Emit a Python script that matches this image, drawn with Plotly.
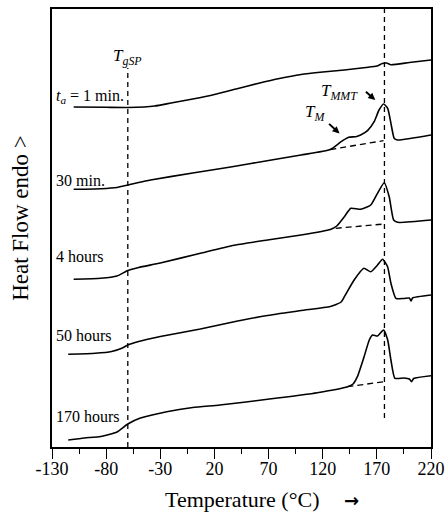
import plotly.graph_objects as go

# ---- data (heat flow in arbitrary units) ----
T1 = [-110, -80, -60, -45, -35, -20, 0, 20, 40, 60, 80, 100, 120, 140, 160, 170, 175, 179, 183, 200, 220]
HF1 = [340, 339.7, 339.5, 340, 341, 344, 348, 352.5, 358, 363.5, 368.5, 372.5, 375, 377, 379.5, 381, 383.5, 384, 382.3, 384.5, 387]

T2 = [-110, -85, -70, -60, -50, -39, 0, 35, 70, 100, 127, 137, 144, 150.5, 155, 161.4, 167.5, 172, 176.2, 180, 183, 186, 189, 220]
HF2 = [257.7, 258.3, 259.5, 262, 264.5, 267, 274, 280, 286.5, 292, 297.5, 305.3, 309.7, 310.3, 312, 316.3, 325.3, 337, 343, 338.7, 323.7, 308.7, 307, 312]

T3 = [-110, -85, -70, -60, -50, -30, 7, 37, 69, 100, 127, 133, 140, 146, 155, 164.4, 170.6, 176.8, 181.4, 185.5, 189.2, 220]
HF3 = [167.7, 168.7, 171, 176.5, 179.5, 184, 193.7, 201.5, 207, 212, 217.5, 221, 230.3, 238.7, 237.7, 242, 253.7, 264.3, 250.3, 227, 224.7, 227]

T4 = [-115, -90, -75, -65, -60, -50, -30, 7, 35, 69, 100, 127, 137, 140, 149, 158, 164.4, 170.6, 175.3, 179.9, 183, 187.6, 195, 200, 201.5, 203, 220]
HF4 = [92.7, 93.7, 95.5, 99, 102, 105.5, 110.5, 118, 124.5, 131.5, 136.5, 140.5, 145, 150.3, 167, 178.7, 175.3, 182, 187.7, 180.3, 163.7, 148.7, 148.5, 149, 146, 149, 152]

T5 = [-115, -100, -85, -70, -60, -49, -24, 0, 25, 69, 115, 143, 148, 152, 158.2, 163, 166, 170.6, 176.2, 180, 183, 186.7, 195, 200, 202, 204, 220]
HF5 = [7, 9, 10.5, 15, 23, 28.7, 35.3, 39.5, 42, 47.7, 54.3, 60.3, 63, 70.3, 90.3, 107, 112, 111, 117, 107, 87, 68.7, 69, 68, 65.3, 68.5, 71.3]

# dashed baselines under the melting endotherms
B2_T, B2_HF = [127, 176.2], [297.5, 306.3]
B3_T, B3_HF = [132, 176.8], [218.7, 223]
B5_T, B5_HF = [142.8, 176.8], [60.3, 65.3]

# characteristic temperatures
T_GSP = -60
T_MMT = 177

CURVE_LABELS = ["<i>t</i><sub><i>a</i></sub> = 1 min.", "30 min.", "4 hours", "50 hours", "170 hours"]
LABEL_HF = [350.3, 267, 190.3, 111.3, 30.3]

X_TICKS = [-130, -80, -30, 20, 70, 120, 170, 220]

FONT = "Liberation Serif"

fig = go.Figure()

for T, HF in [(T1, HF1), (T2, HF2), (T3, HF3), (T4, HF4), (T5, HF5)]:
    fig.add_trace(go.Scatter(x=T, y=HF, mode="lines",
                             line=dict(color="black", width=1.6, shape="spline", smoothing=0.5),
                             showlegend=False, hoverinfo="skip"))

for T, HF in [(B2_T, B2_HF), (B3_T, B3_HF), (B5_T, B5_HF)]:
    fig.add_trace(go.Scatter(x=T, y=HF, mode="lines",
                             line=dict(color="black", width=1.3, dash="6px,4px"),
                             showlegend=False, hoverinfo="skip"))

# vertical dashed markers
fig.add_trace(go.Scatter(x=[T_GSP, T_GSP], y=[0, 379], mode="lines",
                         line=dict(color="black", width=1.3, dash="5px,4px"),
                         showlegend=False, hoverinfo="skip"))
fig.add_trace(go.Scatter(x=[T_MMT, T_MMT], y=[29, 438], mode="lines",
                         line=dict(color="black", width=1.3, dash="5px,4px"),
                         showlegend=False, hoverinfo="skip"))

ann = []
for lab, hf in zip(CURVE_LABELS, LABEL_HF):
    ann.append(dict(x=-128, y=hf, text=lab, showarrow=False, xanchor="left", yanchor="middle",
                    font=dict(family=FONT, size=16, color="black")))

ann.append(dict(x=T_GSP, y=390, text="<i>T</i><sub><i>gSP</i></sub>", showarrow=False,
                xanchor="center", yanchor="middle", font=dict(family=FONT, size=17, color="black")))
ann.append(dict(x=135.7, y=355.3, text="<i>T</i><sub><i>MMT</i></sub>", showarrow=False,
                xanchor="center", yanchor="middle", font=dict(family=FONT, size=17, color="black")))
ann.append(dict(x=112.8, y=334, text="<i>T</i><sub><i>M</i></sub>", showarrow=False,
                xanchor="center", yanchor="middle", font=dict(family=FONT, size=17, color="black")))
# arrows
ann.append(dict(x=168.5, y=347.0, ax=158.5, ay=356.5, axref="x", ayref="y", text="",
                showarrow=True, arrowhead=2, arrowsize=0.7, arrowwidth=2, arrowcolor="black"))
ann.append(dict(x=135.5, y=313.5, ax=124.5, ay=324.5, axref="x", ayref="y", text="",
                showarrow=True, arrowhead=2, arrowsize=0.7, arrowwidth=2, arrowcolor="black"))

ann.append(dict(x=220.5, y=12, text="PU-65%HS", showarrow=False, xanchor="right", yanchor="middle",
                font=dict(family=FONT, size=20, color="black")))

# axis titles
ann.append(dict(x=0.501, y=-0.121, xref="paper", yref="paper", text="Temperature (°C)", showarrow=False,
                xanchor="center", yanchor="middle", font=dict(family=FONT, size=22, color="black")))
ann.append(dict(x=0.79, y=-0.122, xref="paper", yref="paper", text="<b>→</b>", showarrow=False,
                xanchor="center", yanchor="middle", font=dict(family="DejaVu Sans", size=18, color="black")))
ann.append(dict(x=-0.082, y=0.523, xref="paper", yref="paper", text="Heat Flow endo >", showarrow=False,
                textangle=-90, xanchor="center", yanchor="middle", font=dict(family=FONT, size=23, color="black")))
fig.update_layout(annotations=ann)

fig.update_layout(
    width=446, height=513,
    margin=dict(l=52, r=15, t=9, b=66, autoexpand=False),
    paper_bgcolor="white", plot_bgcolor="white",
    font=dict(family=FONT, color="black"),
    xaxis=dict(range=[-130, 220], tickvals=X_TICKS, ticktext=[str(v) for v in X_TICKS],
               ticks="outside", ticklen=10, tickwidth=1.3, tickcolor="black", ticklabelstandoff=-5,
               minor=dict(tick0=-130, dtick=25, ticks="outside", ticklen=5, tickwidth=1.2, tickcolor="black"),
               showline=True, linecolor="black", linewidth=1.5, mirror=True,
               showgrid=False, zeroline=False, automargin=False,
               tickfont=dict(family=FONT, size=18, color="black")),
    yaxis=dict(range=[0, 438], showticklabels=False, ticks="",
               showline=True, linecolor="black", linewidth=1.5, mirror=True,
               showgrid=False, zeroline=False, automargin=False),
)

fig.write_html("out.html")
